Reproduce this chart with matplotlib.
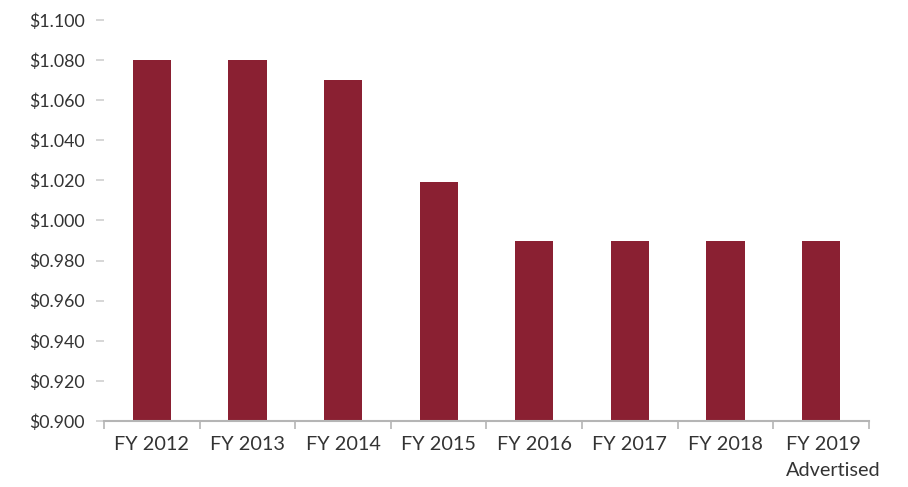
import matplotlib.pyplot as plt
from matplotlib.ticker import FixedLocator, FuncFormatter
from matplotlib.transforms import ScaledTranslation

plt.rcParams["font.family"] = ["Lato", "DejaVu Sans"]

categories = ["FY 2012", "FY 2013", "FY 2014", "FY 2015", "FY 2016", "FY 2017", "FY 2018", "FY 2019\nAdvertised"]
prices = [1.080, 1.080, 1.070, 1.019, 0.990, 0.990, 0.990, 0.990]
y_ticks = [0.900, 0.920, 0.940, 0.960, 0.980, 1.000, 1.020, 1.040, 1.060, 1.080, 1.100]

BAR_COLOR = "#8A2032"
AXIS_COLOR = "#B5B5B5"
TEXT_COLOR = "#333333"

fig = plt.figure(figsize=(9.08, 4.87), dpi=100)
ax = fig.add_axes([0.1145, 0.1355, 0.8425, 0.8235])

x = list(range(len(categories)))
ax.bar(x, [p - 0.9 for p in prices], bottom=0.9, width=0.4, color=BAR_COLOR)

ax.set_xlim(-0.5, len(categories) - 0.5)
ax.set_ylim(0.9, 1.1)
ax.set_yticks(y_ticks)
ax.yaxis.set_major_formatter(FuncFormatter(lambda v, _: "${:.3f}".format(v)))

ax.set_xticks(x)
ax.set_xticklabels(categories)
ax.xaxis.set_minor_locator(FixedLocator([i - 0.5 for i in range(len(categories) + 1)]))
ax.tick_params(axis="x", which="major", length=0, pad=11, labelsize=14.3, labelcolor=TEXT_COLOR)
ax.tick_params(axis="x", which="minor", length=6, width=1.2, color=AXIS_COLOR, direction="out")
ax.tick_params(axis="y", length=6, width=1.2, color="#D0D0D0", pad=8, labelsize=12.8, labelcolor=TEXT_COLOR)

# last label: two lines, left aligned, nudged left
last = ax.get_xticklabels()[-1]
last.set_horizontalalignment("left")
last.set_multialignment("left")
last.set_linespacing(1.65)
last.set_transform(last.get_transform() + ScaledTranslation(-0.35, 0, fig.dpi_scale_trans))

for side in ["left", "top", "right"]:
    ax.spines[side].set_visible(False)
ax.spines["bottom"].set_color(AXIS_COLOR)
ax.spines["bottom"].set_linewidth(1.5)

fig.savefig("out.png", dpi=100)
